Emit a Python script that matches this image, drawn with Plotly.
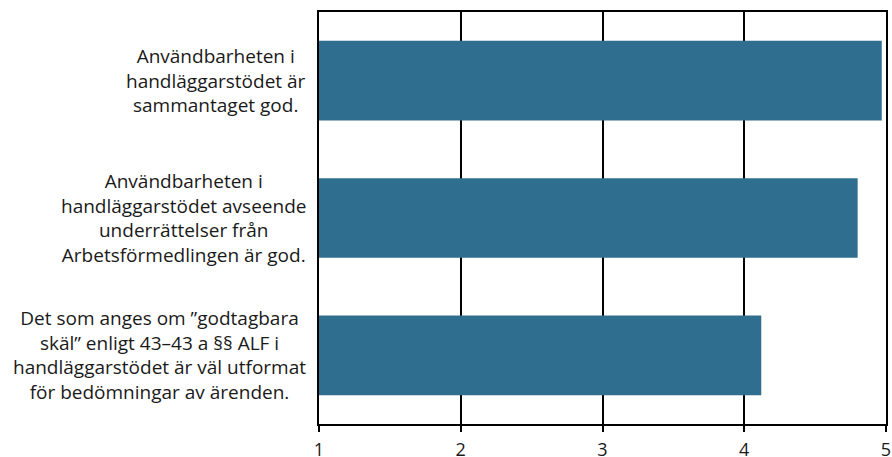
import plotly.graph_objects as go

categories = [
    "Användbarheten i<br>handläggarstödet är<br>sammantaget god.",
    "Användbarheten i<br>handläggarstödet avseende<br>underrättelser från<br>Arbetsförmedlingen är god.",
    "Det som anges om ”godtagbara<br>skäl” enligt 43–43 a §§ ALF i<br>handläggarstödet är väl utformat<br>för bedömningar av ärenden.",
]
values = [4.97, 4.80, 4.12]
tick_vals = [1, 2, 3, 4, 5]
tick_text = ["1", "2", "3", "4", "5"]

FONT = "Open Sans"
BAR_COLOR = "#2F6E8F"

fig = go.Figure()
fig.add_trace(go.Bar(
    y=categories,
    x=values,
    orientation="h",
    width=0.58,
    marker=dict(color=BAR_COLOR, line=dict(width=0)),
    hoverinfo="x",
))

for cat in categories:
    fig.add_annotation(
        x=0, xref="paper", xshift=-11,
        y=cat, yref="y",
        text=cat,
        showarrow=False,
        xanchor="right", yanchor="middle",
        align="center",
        font=dict(family=FONT, size=19, color="#1a1a1a"),
    )

fig.update_layout(
    width=892, height=457,
    margin=dict(l=319, r=6, t=12, b=33, autoexpand=False),
    paper_bgcolor="white",
    plot_bgcolor="white",
    showlegend=False,
    xaxis=dict(
        range=[1, 5],
        tickvals=tick_vals,
        ticktext=tick_text,
        ticks="outside",
        ticklen=6,
        tickwidth=2,
        tickcolor="black",
        showgrid=True,
        gridcolor="black",
        gridwidth=1.5,
        showline=True,
        linecolor="black",
        linewidth=2,
        mirror=True,
        zeroline=False,
        automargin=False,
        ticklabelstandoff=2,
        ticklabeloverflow="allow",
        tickfont=dict(family=FONT, size=18, color="#1a1a1a"),
        fixedrange=True,
    ),
    yaxis=dict(
        autorange="reversed",
        showticklabels=False,
        ticks="",
        showgrid=False,
        showline=True,
        linecolor="black",
        linewidth=2,
        mirror=True,
        zeroline=False,
        automargin=False,
        fixedrange=True,
    ),
)

fig.write_html(
    "out.html",
    config={"displayModeBar": False},
    post_script="document.body.style.margin='0';document.body.style.overflow='hidden';",
)
